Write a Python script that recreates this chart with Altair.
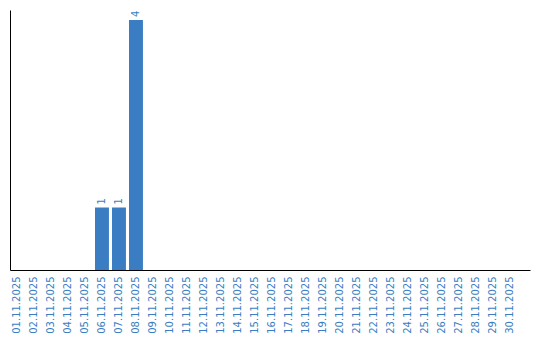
import altair as alt
import pandas as pd

dates = [f"{d:02d}.11.2025" for d in range(1, 31)]
counts = [0, 0, 0, 0, 0, 1, 1, 4] + [0] * 22

df = pd.DataFrame({"date": dates, "count": counts})
BLUE = "#3a7dc2"

x = alt.X("date:N", sort=dates, title=None,
          scale=alt.Scale(paddingInner=0.18, paddingOuter=0.384, align=0),
          axis=alt.Axis(labelAngle=270, labelAlign="right", labelBaseline="middle",
                        labelColor=BLUE, labelFont="DejaVu Sans", labelFontSize=10,
                        ticks=False, labelPadding=6, domainColor="black",
                        domainWidth=1, grid=False))
y = alt.Y("count:Q", title=None, scale=alt.Scale(domain=[0, 4.16], nice=False),
          axis=alt.Axis(labels=False, ticks=False, grid=False, domainColor="black",
                        domainWidth=1))

bars = alt.Chart(df).mark_bar(color=BLUE).encode(x=x, y=y)
text = alt.Chart(df).transform_filter("datum.count > 0").mark_text(
    angle=270, align="left", baseline="middle", dx=3, color=BLUE,
    font="DejaVu Sans", fontSize=10
).encode(x=alt.X("date:N", sort=dates), y="count:Q", text="count:Q")

chart = (bars + text).properties(
    width=520, height=260,
    autosize=alt.AutoSizeParams(type="none"),
    padding={"left": 10, "top": 10, "right": 10, "bottom": 70},
    background="white",
).configure_view(stroke=None)

chart.save("out.html", embed_options={"renderer": "svg", "actions": False})
